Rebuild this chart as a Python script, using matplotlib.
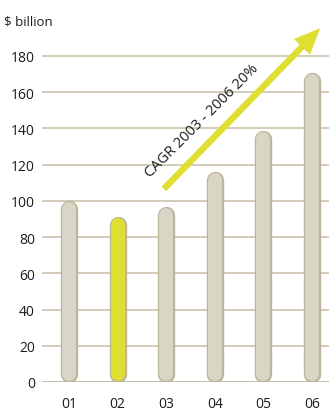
import matplotlib
matplotlib.use('Agg')
import matplotlib.pyplot as plt
import numpy as np

plt.rcParams['font.family'] = ['Open Sans', 'DejaVu Sans']

years = ['01', '02', '03', '04', '05', '06']
values = [100, 91, 97, 116, 139, 171]
highlight = '02'
yticks = [0, 20, 40, 60, 80, 100, 120, 140, 160, 180]
cagr_label = 'CAGR 2003 - 2006 20%'

BAR = '#d9d6c8'
EDGE = '#bfb59b'
YELLOW = '#dfdf33'
GRID = '#cac2aa'
TXT = '#1c1c1c'

fig = plt.figure(figsize=(3.29, 4.14), dpi=100)
ax = fig.add_axes([0.1277, 0.0749, 0.8723, 0.875])
ax.set_xlim(-0.556, 5.35)
ax.set_ylim(0, 200)

# bar half-width in data units, so the round caps stay inside 0..value
r = 4.6
x = np.arange(len(years))
for xi, yr, v in zip(x, years, values):
    fill = YELLOW if yr == highlight else BAR
    ax.plot([xi, xi], [r, v - r], color=EDGE, lw=12.5,
            solid_capstyle='round', zorder=3)
    ax.plot([xi, xi], [r, v - r], color=fill, lw=10,
            solid_capstyle='round', zorder=4)

for t in yticks[1:]:
    ax.axhline(t, color=GRID, lw=1.2, zorder=1)
ax.axhline(0, color=EDGE, lw=2, zorder=2)

ax.set_yticks(yticks)
ax.set_xticks(x)
ax.set_xticklabels(years)
ax.tick_params(axis='y', length=0, pad=5, labelsize=10, labelcolor=TXT)
ax.tick_params(axis='x', length=0, pad=10, labelsize=10, labelcolor=TXT)
for s in ax.spines.values():
    s.set_visible(False)

ax.annotate('', xy=(5.21, 196.5), xytext=(1.91, 105.5),
            arrowprops=dict(arrowstyle='simple,head_length=1.05,head_width=0.9,tail_width=0.26',
                            mutation_scale=18, color=YELLOW, lw=0),
            annotation_clip=False, zorder=5)
ax.text(2.73, 144.7, cagr_label, rotation=45, ha='center', va='center',
        fontsize=10.5, color=TXT, zorder=6)

fig.text(0.012, 0.947, '$ billion', ha='left', va='center', fontsize=9.5, color=TXT)

fig.savefig('out.png', dpi=100)
